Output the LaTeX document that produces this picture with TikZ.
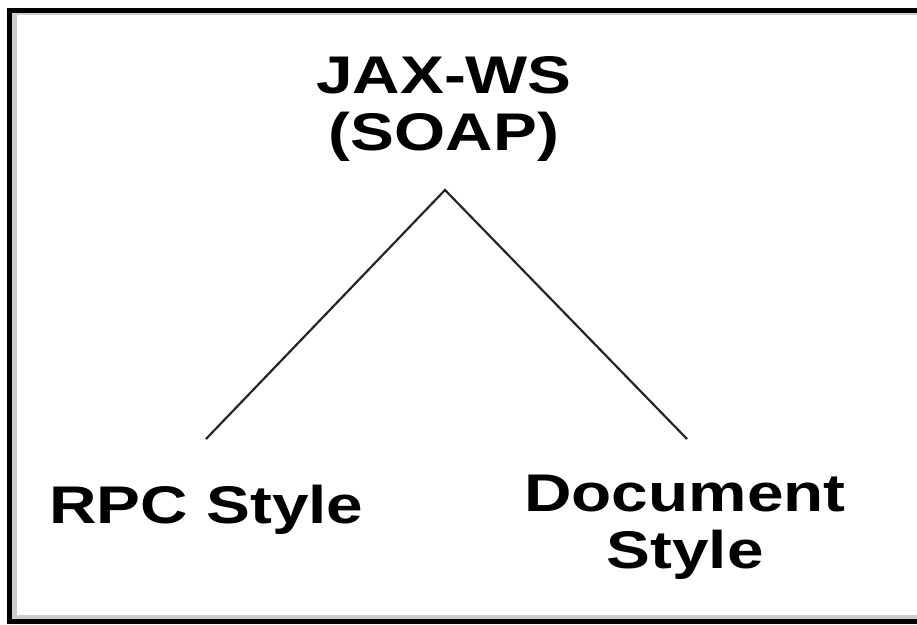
\documentclass[tikz,border=0pt]{standalone}
\usepackage{fontspec}
\newfontfamily\diagfont{Liberation Sans}[FakeStretch=1.24]
\begin{document}
\begin{tikzpicture}[x=1pt,y=-1pt,
  lbl/.style={font=\diagfont\bfseries\fontsize{53}{57}\selectfont, inner sep=0pt, align=center, anchor=base},
  branch/.style={line width=2.2pt, color=black!85},
  frame/.style={line width=5pt, color=black},
  shade/.style={color=black!20}]
\useasboundingbox (0,0) rectangle (917,624);
\clip (0,0) rectangle (917,624);
\fill[white] (0,0) rectangle (917,624);
% shadow inside the frame
\fill[shade] (12,12) rectangle (930,15);
\fill[shade] (12,12) rectangle (17,619);
\fill[shade] (12,615) rectangle (930,619);
% frame
\draw[frame, line cap=butt] (930,10) -- (9.5,10) -- (9.5,621.5) -- (930,621.5);
% labels (base anchor = baseline of the last line)
\node[lbl] (root) at (444,150) {JAX-WS\\(SOAP)};
\node[lbl] (rpc) at (206.5,523) {RPC Style};
\node[lbl] (doc) at (685,568) {Document\\Style};
% connectors
\coordinate (apex) at (445,190);
\coordinate (lend) at (206,439);
\coordinate (rend) at (687,439);
\draw[branch] (lend) -- (apex) -- (rend);
\end{tikzpicture}
\end{document}
